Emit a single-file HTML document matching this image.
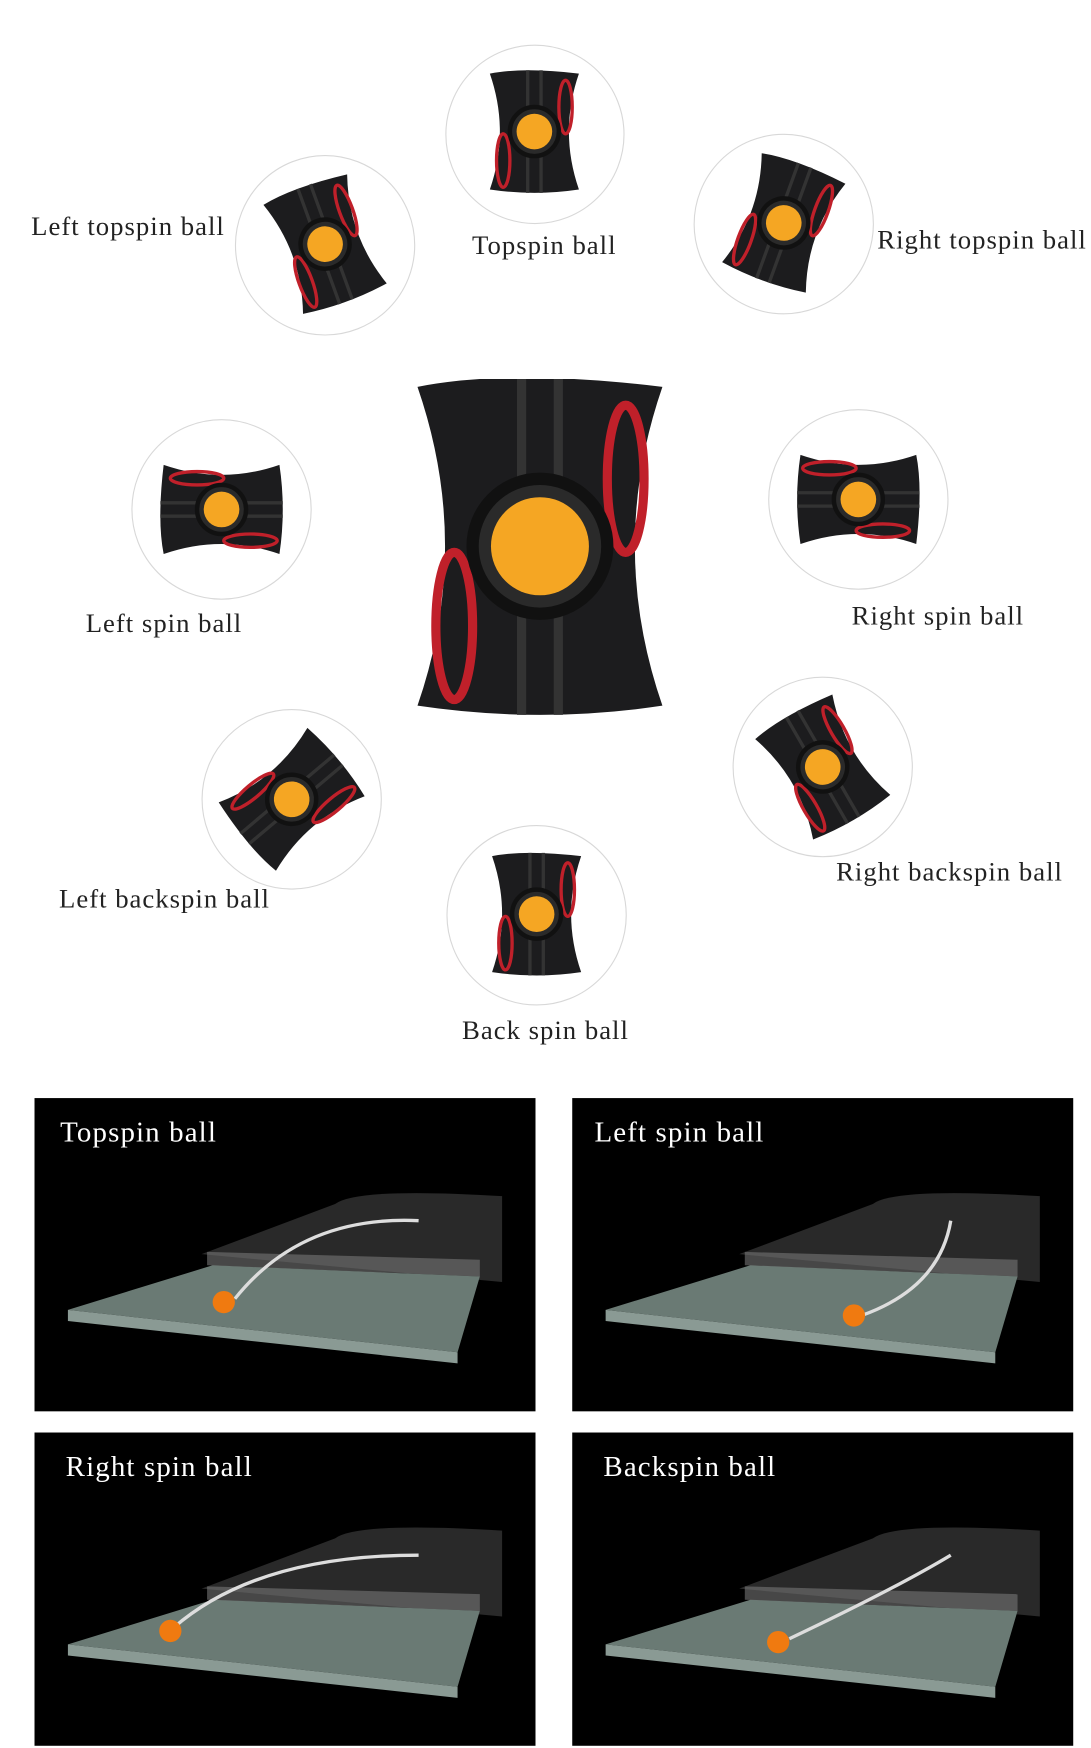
<!DOCTYPE html>
<html><head><meta charset="utf-8"><style>
html,body{margin:0;padding:0;background:#fff;width:1091px;height:1748px;overflow:hidden}
#w{position:absolute;left:0;top:0;width:980px;height:1568px;transform:scale(1.1133,1.1148);transform-origin:0 0}
.c{position:absolute;border:1.5px solid #d8d8d8;border-radius:50%;box-sizing:border-box;background:#fff}
.l{position:absolute;font-family:"Liberation Serif",serif;font-size:24px;letter-spacing:0.9px;color:#222;white-space:nowrap}
.p{position:absolute;background:#000;width:450px;height:281px;overflow:hidden}
.pt{position:absolute;left:23px;top:16px;color:#fff;font-family:"Liberation Serif",serif;font-size:26px;letter-spacing:1px}
svg{position:absolute}
</style></head><body><div id="w">
<svg width="0" height="0"><defs>
<g id="dev">
<path d="M-40,-52 Q-10,-58 40,-52 Q22,0 40,52 Q0,58 -40,52 Q-22,0 -40,-52Z" fill="#1c1c1e"/>
<path d="M-6,-55 L-6,55 M6,-55 L6,55" stroke="#333" stroke-width="3"/>
<ellipse cx="28" cy="-22" rx="6" ry="24" fill="none" stroke="#c0202a" stroke-width="3"/>
<ellipse cx="-28" cy="26" rx="6" ry="24" fill="none" stroke="#c0202a" stroke-width="3"/>
<circle r="22" fill="#2a2a2a" stroke="#111" stroke-width="4"/>
<circle r="16" fill="#f5a623"/>
</g>
</defs></svg>

<div class="c" style="left:400px;top:40px;width:161px;height:161px"></div>
<svg style="left:400px;top:40px" width="161" height="161"><use href="#dev" x="80" y="78"/></svg>
<div class="c" style="left:211px;top:139px;width:162px;height:162px"></div>
<svg style="left:211px;top:139px" width="162" height="162"><g transform="translate(81,80) rotate(-20)"><use href="#dev"/></g></svg>
<div class="c" style="left:623px;top:120px;width:162px;height:162px"></div>
<svg style="left:623px;top:120px" width="162" height="162"><g transform="translate(81,80) rotate(20)"><use href="#dev"/></g></svg>
<div class="c" style="left:118px;top:376px;width:162px;height:162px"></div>
<svg style="left:118px;top:376px" width="162" height="162"><g transform="translate(81,81) rotate(-90)"><use href="#dev"/></g></svg>
<div class="c" style="left:690px;top:367px;width:162px;height:162px"></div>
<svg style="left:690px;top:367px" width="162" height="162"><g transform="translate(81,81) rotate(90)"><use href="#dev"/></g></svg>
<div class="c" style="left:181px;top:636px;width:162px;height:162px"></div>
<svg style="left:181px;top:636px" width="162" height="162"><g transform="translate(81,81) rotate(-130)"><use href="#dev"/></g></svg>
<div class="c" style="left:658px;top:607px;width:162px;height:162px"></div>
<svg style="left:658px;top:607px" width="162" height="162"><g transform="translate(81,81) rotate(-30)"><use href="#dev"/></g></svg>
<div class="c" style="left:401px;top:740px;width:162px;height:162px"></div>
<svg style="left:401px;top:740px" width="162" height="162"><g transform="translate(81,80)"><use href="#dev"/></g></svg>

<svg style="left:360px;top:340px" width="250" height="310"><g transform="translate(125,150) scale(2.75)"><use href="#dev"/></g></svg>

<div class="l" style="left:28px;top:191px">Left topspin ball</div>
<div class="l" style="left:424px;top:208px">Topspin ball</div>
<div class="l" style="left:788px;top:203px">Right topspin ball</div>
<div class="l" style="left:77px;top:547px">Left spin ball</div>
<div class="l" style="left:765px;top:540px">Right spin ball</div>
<div class="l" style="left:53px;top:794px">Left backspin ball</div>
<div class="l" style="left:751px;top:770px">Right backspin ball</div>
<div class="l" style="left:415px;top:912px">Back spin ball</div>

<div class="p" style="left:31px;top:985px"><div class="pt">Topspin ball</div>
<svg width="450" height="281"><path d="M270,95 Q290,80 420,88 L420,165 L150,140 Z" fill="#333" opacity=".8"/><polygon points="30,190 160,150 400,160 380,228 " fill="#6a7a74"/><polygon points="30,190 380,228 380,238 30,200" fill="#8a9a94"/><path d="M155,138 L400,145 L400,160 L155,150Z" fill="#777" opacity=".6"/><path d="M180,180 Q240,105 345,110" stroke="#ddd" stroke-width="3" fill="none"/><circle cx="170" cy="183" r="10" fill="#f07a10"/></svg></div>
<div class="p" style="left:514px;top:985px"><div class="pt" style="left:20px">Left spin ball</div>
<svg width="450" height="281"><path d="M270,95 Q290,80 420,88 L420,165 L150,140 Z" fill="#333" opacity=".8"/><polygon points="30,190 160,150 400,160 380,228 " fill="#6a7a74"/><polygon points="30,190 380,228 380,238 30,200" fill="#8a9a94"/><path d="M155,138 L400,145 L400,160 L155,150Z" fill="#777" opacity=".6"/><path d="M260,195 Q330,170 340,110" stroke="#ddd" stroke-width="3" fill="none"/><circle cx="253" cy="195" r="10" fill="#f07a10"/></svg></div>
<div class="p" style="left:31px;top:1285px"><div class="pt" style="left:28px">Right spin ball</div>
<svg width="450" height="281"><path d="M270,95 Q290,80 420,88 L420,165 L150,140 Z" fill="#333" opacity=".8"/><polygon points="30,190 160,150 400,160 380,228 " fill="#6a7a74"/><polygon points="30,190 380,228 380,238 30,200" fill="#8a9a94"/><path d="M155,138 L400,145 L400,160 L155,150Z" fill="#777" opacity=".6"/><path d="M125,175 Q200,110 345,110" stroke="#ddd" stroke-width="3" fill="none"/><circle cx="122" cy="178" r="10" fill="#f07a10"/></svg></div>
<div class="p" style="left:514px;top:1285px"><div class="pt" style="left:28px">Backspin ball</div>
<svg width="450" height="281"><path d="M270,95 Q290,80 420,88 L420,165 L150,140 Z" fill="#333" opacity=".8"/><polygon points="30,190 160,150 400,160 380,228 " fill="#6a7a74"/><polygon points="30,190 380,228 380,238 30,200" fill="#8a9a94"/><path d="M155,138 L400,145 L400,160 L155,150Z" fill="#777" opacity=".6"/><path d="M195,185 Q290,140 340,110" stroke="#ddd" stroke-width="3" fill="none"/><circle cx="185" cy="188" r="10" fill="#f07a10"/></svg></div>
</div></body></html>
